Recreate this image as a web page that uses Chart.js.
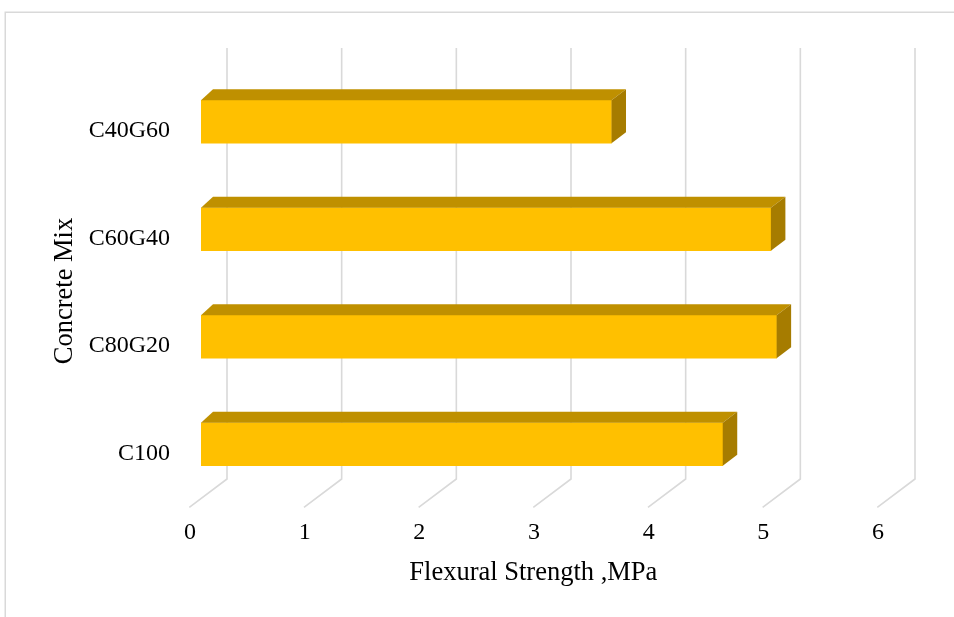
<!DOCTYPE html>
<html>
<head>
<meta charset="utf-8">
<script src="https://cdn.jsdelivr.net/npm/chart.js@4.4.1/dist/chart.umd.min.js"></script>
<style>
  html, body { margin: 0; padding: 0; background: #ffffff; }
  #wrap { position: relative; width: 954px; height: 617px; overflow: hidden; }
  canvas { display: block; }
</style>
</head>
<body>
<div id="wrap"><canvas id="chart" width="954" height="617"></canvas></div>
<script>
// Flexural strength of each concrete mix (MPa)
const mixes = ['C40G60', 'C60G40', 'C80G20', 'C100'];
const flexuralStrength = [3.58, 4.97, 5.02, 4.55];
const strengthTicks = [0, 1, 2, 3, 4, 5, 6];
const xTitle = 'Flexural Strength ,MPa';
const yTitle = 'Concrete Mix';

// Oblique-projection offsets for the pseudo 3D look
const BACK_DX = 26, BACK_TOP_DY = -20, BACK_BOTTOM_DY = -19;
const FRONT_DX = -11.7, FRONT_DY = 9.3;
const BAR_DEPTH_Y = 11, BAR_DEPTH_LEFT = 12, BAR_DEPTH_RIGHT = 14.5;

const FONT = '"Liberation Serif", "Times New Roman", serif';
const GRID = '#d9d9d9';

const depth3d = {
  id: 'depth3d',
  beforeDraw(chart) {
    const ctx = chart.ctx;
    ctx.save();
    ctx.strokeStyle = GRID;
    ctx.lineWidth = 1.5;
    ctx.strokeRect(5.25, 12.25, 1000, 700);
    ctx.restore();
  },
  beforeDatasetsDraw(chart) {
    const { ctx, chartArea: a, scales: { x } } = chart;
    ctx.save();
    ctx.strokeStyle = GRID;
    ctx.lineWidth = 1.6;
    strengthTicks.forEach(v => {
      const px = x.getPixelForValue(v);
      ctx.beginPath();
      ctx.moveTo(px + BACK_DX, a.top + BACK_TOP_DY);
      ctx.lineTo(px + BACK_DX, a.bottom + BACK_BOTTOM_DY);
      ctx.lineTo(px + FRONT_DX, a.bottom + FRONT_DY);
      ctx.stroke();
    });
    ctx.restore();
  },
  afterDatasetsDraw(chart) {
    const ctx = chart.ctx;
    const meta = chart.getDatasetMeta(0);
    ctx.save();
    meta.data.forEach(bar => {
      const { x: end, y, base, height } = bar.getProps(['x', 'y', 'base', 'height'], true);
      const top = y - height / 2, bot = y + height / 2;
      // top face
      ctx.fillStyle = '#BF9000';
      ctx.beginPath();
      ctx.moveTo(base, top);
      ctx.lineTo(base + BAR_DEPTH_LEFT, top - BAR_DEPTH_Y);
      ctx.lineTo(end + BAR_DEPTH_RIGHT, top - BAR_DEPTH_Y);
      ctx.lineTo(end, top);
      ctx.closePath();
      ctx.fill();
      // end face
      ctx.fillStyle = '#A67C00';
      ctx.beginPath();
      ctx.moveTo(end, top);
      ctx.lineTo(end + BAR_DEPTH_RIGHT, top - BAR_DEPTH_Y);
      ctx.lineTo(end + BAR_DEPTH_RIGHT, bot - BAR_DEPTH_Y);
      ctx.lineTo(end, bot);
      ctx.closePath();
      ctx.fill();
    });
    ctx.restore();
  },
  afterDraw(chart) {
    const { ctx, chartArea: a, scales: { x } } = chart;
    ctx.save();
    ctx.fillStyle = '#000';
    ctx.font = '26.5px ' + FONT;
    ctx.textAlign = 'center';
    ctx.textBaseline = 'middle';
    ctx.fillText(xTitle, x.getPixelForValue(3) + FRONT_DX, a.bottom + 75);
    ctx.translate(65, (a.top + a.bottom) / 2 + 8);
    ctx.rotate(-Math.PI / 2);
    ctx.fillText(yTitle, 0, 0);
    ctx.restore();
  }
};

new Chart(document.getElementById('chart'), {
  type: 'bar',
  data: {
    labels: mixes,
    datasets: [{
      data: flexuralStrength,
      backgroundColor: '#FFC000',
      borderWidth: 0,
      barThickness: 43
    }]
  },
  options: {
    indexAxis: 'y',
    responsive: false,
    animation: false,
    events: [],
    layout: { padding: { top: 68, right: 65, bottom: 0, left: 0 } },
    plugins: { legend: { display: false }, tooltip: { enabled: false } },
    scales: {
      x: {
        min: 0,
        max: 6,
        grid: { display: false, drawTicks: false },
        border: { display: false },
        ticks: {
          stepSize: 1,
          color: '#000',
          font: { family: FONT, size: 24 },
          padding: 20,
          labelOffset: -11,
          maxRotation: 0
        },
        afterFit(s) { s.height = 119; }
      },
      y: {
        grid: { display: false, drawTicks: false },
        border: { display: false },
        ticks: {
          color: '#000',
          font: { family: FONT, size: 24 },
          padding: 31,
          labelOffset: 9
        },
        afterFit(s) { s.width = 201; }
      }
    }
  },
  plugins: [depth3d]
});
</script>
</body>
</html>
